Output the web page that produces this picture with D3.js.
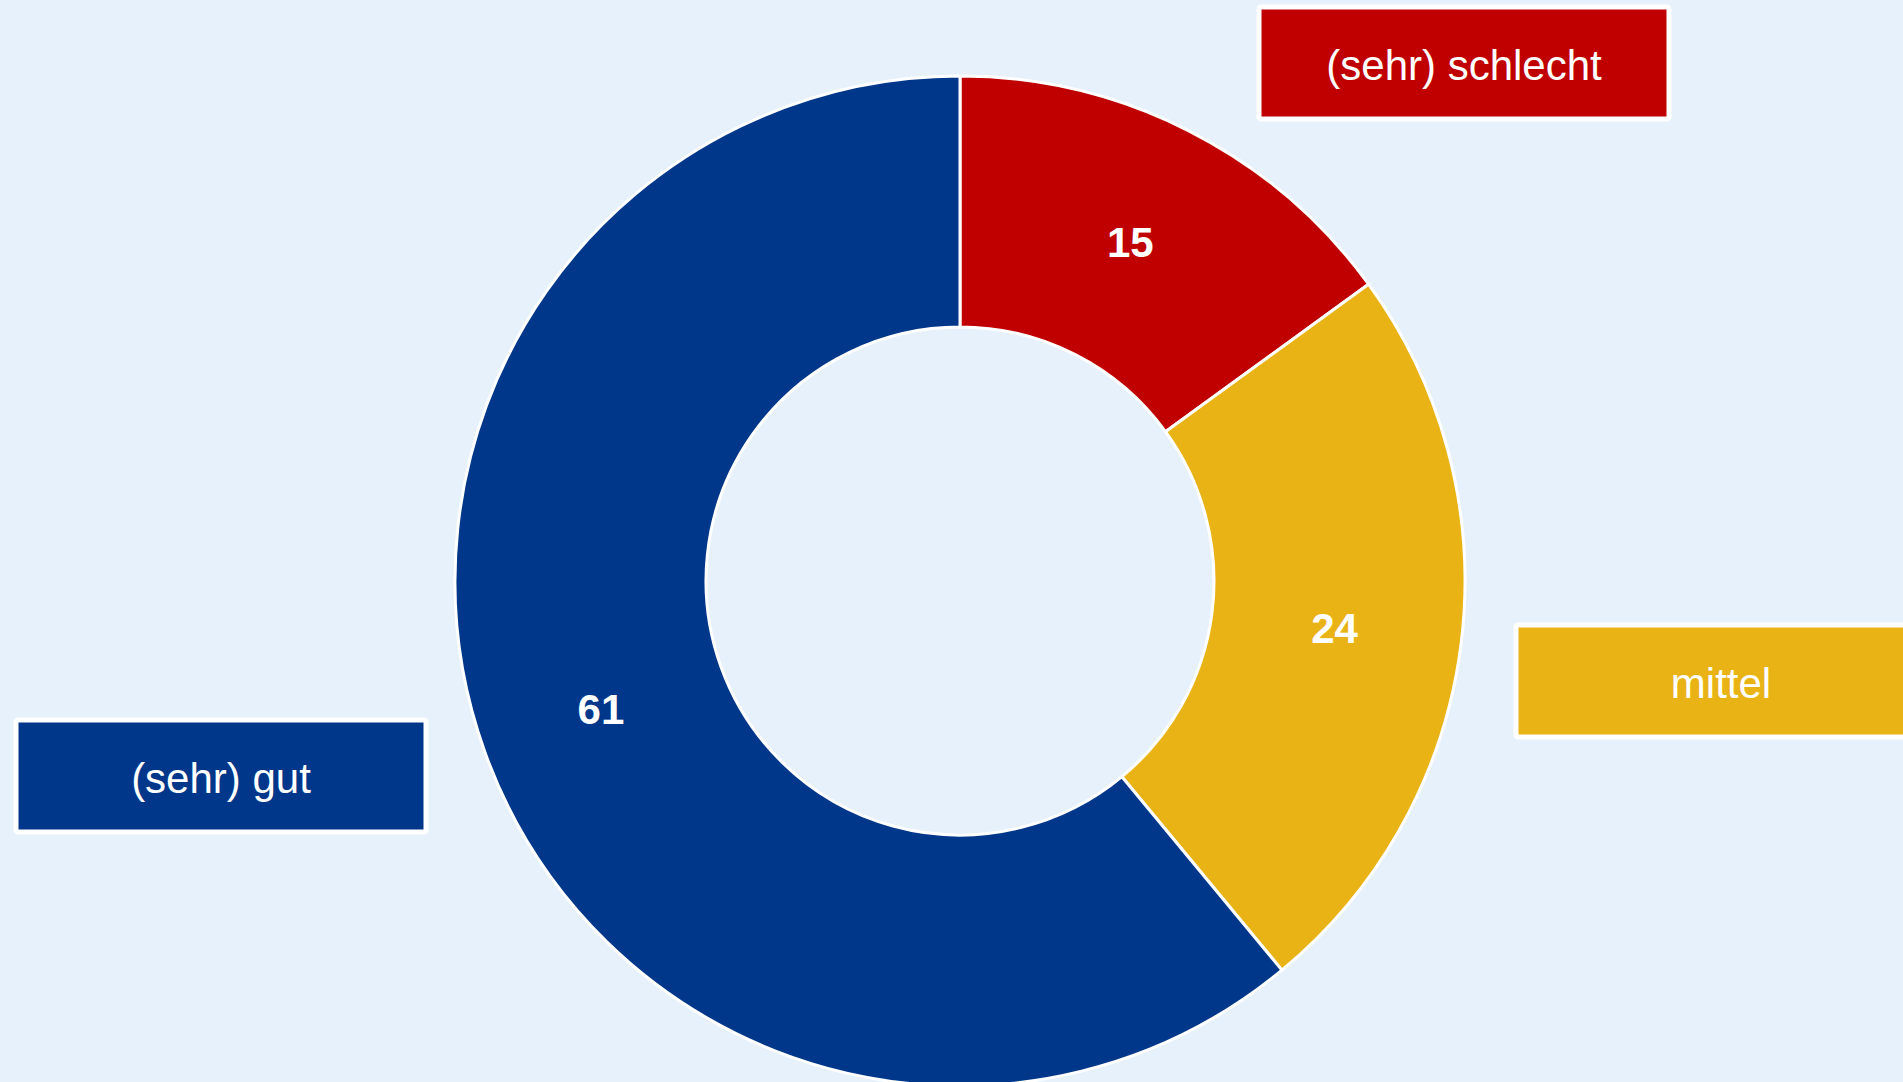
<!DOCTYPE html>
<html>
<head>
<meta charset="utf-8">
<script src="https://cdn.jsdelivr.net/npm/d3@7"></script>
<style>
  html, body { margin: 0; padding: 0; background: #e7f1fb; overflow: hidden; }
  svg { display: block; font-family: "Liberation Sans", Arial, sans-serif; }
</style>
</head>
<body>
<div id="chart"></div>
<script>
// categories and shares (%), clockwise from 12 o'clock
const categories = ["(sehr) schlecht", "mittel", "(sehr) gut"];
const values = [15, 24, 61];
const colors = ["#c00000", "#eab315", "#00378a"];

// legend-like boxes placed beside the ring
const boxes = [
  { x: 1259, y: 7 },
  { x: 1516, y: 625 },
  { x: 16, y: 720 }
];

const width = 1903, height = 1082;
const cx = 960, cy = 581;
const innerRadius = 254, outerRadius = 505;

const svg = d3.select("#chart")
  .append("svg")
  .attr("width", width)
  .attr("height", height);

svg.append("rect")
  .attr("width", width)
  .attr("height", height)
  .attr("fill", "#e7f1fb");

const items = categories.map((c, i) => ({ name: c, value: values[i], color: colors[i] }));

const pie = d3.pie()
  .sort(null)
  .value(d => d.value);

const arc = d3.arc()
  .innerRadius(innerRadius)
  .outerRadius(outerRadius);

const g = svg.append("g")
  .attr("transform", "translate(" + cx + "," + cy + ")");

const arcs = pie(items);

g.selectAll("path")
  .data(arcs)
  .enter()
  .append("path")
  .attr("d", arc)
  .attr("fill", d => d.data.color)
  .attr("stroke", "#ffffff")
  .attr("stroke-width", 3)
  .attr("stroke-linejoin", "round");

// value labels at the centroid of each slice
g.selectAll("text.value")
  .data(arcs)
  .enter()
  .append("text")
  .attr("class", "value")
  .attr("x", d => arc.centroid(d)[0] - 2)
  .attr("y", d => arc.centroid(d)[1])
  .attr("text-anchor", "middle")
  .attr("dominant-baseline", "central")
  .attr("fill", "#ffffff")
  .style("font-weight", "bold")
  .style("font-size", "42px")
  .text(d => d.data.value);

// category boxes
const box = svg.selectAll("g.box")
  .data(items)
  .enter()
  .append("g")
  .attr("class", "box")
  .attr("transform", (d, i) => "translate(" + boxes[i].x + "," + boxes[i].y + ")");

box.append("rect")
  .attr("width", 410)
  .attr("height", 112)
  .attr("rx", 2)
  .attr("fill", d => d.color)
  .attr("stroke", "#ffffff")
  .attr("stroke-width", 5);

box.append("text")
  .attr("x", 205)
  .attr("y", 58)
  .attr("text-anchor", "middle")
  .attr("dominant-baseline", "central")
  .attr("fill", "#ffffff")
  .style("font-size", "42px")
  .text(d => d.name);
</script>
</body>
</html>
